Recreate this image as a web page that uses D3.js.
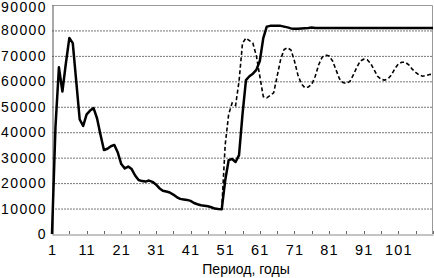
<!DOCTYPE html>
<html>
<head>
<meta charset="utf-8">
<script src="https://cdn.jsdelivr.net/npm/d3@7"></script>
<style>
  body { margin: 0; background: #fff; }
  text { font-family: Arial, "Liberation Sans", sans-serif; fill: #000; }
</style>
</head>
<body>
<div id="chart"></div>
<script>
// data (category = year 1..111)
var solidValues = [
    0, 42000, 65500, 56000, 67000, 77000, 75000, 60000, 45000, 42500,
    47000, 48500, 49500, 45500, 39000, 33000, 33500, 34500, 35000, 32000,
    27500, 25800, 26500, 25500, 23000, 21200, 20800, 20600, 21000, 20500,
    19500, 18000, 17000, 16700, 16300, 15500, 14500, 13800, 13600, 13400,
    13000, 12200, 11700, 11300, 11100, 10900, 10500, 10000, 9800, 9700,
    21000, 29000, 29500, 28300, 31000, 47000, 60500, 62000, 63000, 64500,
    68000, 77000, 81500, 81800, 81800, 81800, 81800, 81500, 81200, 80800,
    80700, 80700, 80800, 80900, 81000, 81200, 81000, 81000, 81000, 81000,
    81000, 81000, 81000, 81000, 81000, 81000, 81000, 81000, 81000, 81000,
    81000, 81000, 81000, 81000, 81000, 81000, 81000, 81000, 81000, 81000,
    81000, 81000, 81000, 81000, 81000, 81000, 81000, 81000, 81000, 81000,
    81000
];
// dashed series only differs from year 50 on
var dashedStart = 50;
var dashedValues = [
    9700, 35000, 47000, 51500, 50500, 60000, 75000, 77000, 76000, 75000,
    70000, 62000, 54000, 53500, 54500, 55500, 62000, 68500, 72500, 73200,
    72300, 68000, 62500, 59000, 57500, 57800, 58800, 62000, 66500, 69500,
    70300, 70000, 68000, 64500, 61000, 59500, 59200, 60000, 62500, 65500,
    68000, 68700, 68500, 67000, 64500, 62000, 60800, 60500, 61000, 62500,
    65000, 66800, 67500, 67500, 66500, 64800, 63500, 62500, 62000, 62300,
    62700, 62800
];
var yTicks = [0, 10000, 20000, 30000, 40000, 50000, 60000, 70000, 80000, 90000];
var xLabels = [1, 11, 21, 31, 41, 51, 61, 71, 81, 91, 101];
var xTitle = "Период, годы";

var width = 434, height = 278,
    margin = { left: 52, right: 1, top: 5, bottom: 44 };

var ww = width - margin.left - margin.right,
    hh = height - margin.top - margin.bottom;

function translate(xDelta, yDelta){
    return "translate(" + xDelta + "," + yDelta + ")";
}

var xScale = d3.scaleLinear()
    .domain([1, solidValues.length])
    .range([0, ww]);

var yScale = d3.scaleLinear()
    .domain([0, 90000])
    .range([hh, 0]);

var svg = d3.select("#chart")
    .append("svg")
    .attr("width", width)
    .attr("height", height);

var g = svg.append("g")
    .attr("transform", translate(margin.left, margin.top));

// gridlines
g.selectAll(".grid")
    .data(yTicks.filter(function(d){ return d > 0 && d < 90000; }))
    .enter()
    .append("line")
    .attr("x1", 0)
    .attr("x2", ww)
    .attr("y1", function(d){ return yScale(d) + 0.5; })
    .attr("y2", function(d){ return yScale(d) + 0.5; })
    .attr("stroke", "#777")
    .attr("stroke-width", 1)
    .attr("stroke-dasharray", "2,1");

// plot border (top, right)
g.append("path")
    .attr("d", "M0,0.5H" + (ww - 0.5) + "V" + hh)
    .attr("fill", "none")
    .attr("stroke", "#999");

// x axis
var xTickVals = d3.range(1, solidValues.length + 1, 5);
var xAxis = d3.axisBottom(xScale)
    .tickValues(xTickVals)
    .tickSize(0)
    .tickFormat("");
g.append("g")
    .attr("class", "x-axis")
    .attr("transform", translate(0, hh + 0.5))
    .call(xAxis)
    .select(".domain").attr("stroke", "#888");

g.selectAll(".xtick")
    .data(xTickVals.slice(1))
    .enter()
    .append("line")
    .attr("x1", function(d){ return Math.round(xScale(d)) + 0.5; })
    .attr("x2", function(d){ return Math.round(xScale(d)) + 0.5; })
    .attr("y1", hh)
    .attr("y2", hh - 3)
    .attr("stroke", "#666");

g.selectAll(".xlabel")
    .data(xLabels)
    .enter()
    .append("text")
    .attr("x", function(d){ return xScale(d) + 0.5; })
    .attr("y", hh + 21)
    .attr("text-anchor", "middle")
    .style("font-size", "14.5px")
    .style("letter-spacing", "1.2px")
    .text(function(d){ return d; });

// y axis
var yAxis = d3.axisLeft(yScale)
    .tickValues(yTicks)
    .tickSize(0)
    .tickFormat("");
g.append("g")
    .attr("class", "y-axis")
    .attr("transform", translate(0.5, 0))
    .call(yAxis)
    .select(".domain").attr("stroke", "#555");

g.selectAll(".ylabel")
    .data(yTicks)
    .enter()
    .append("text")
    .attr("x", -5)
    .attr("y", function(d){ return Math.max(yScale(d) + 5, 6.5); })
    .attr("text-anchor", "end")
    .style("font-size", "14px")
    .style("letter-spacing", "1.4px")
    .text(function(d){ return d; });

svg.append("text")
    .attr("x", 246)
    .attr("y", 274)
    .attr("text-anchor", "middle")
    .style("font-size", "14px")
    .text(xTitle);

// lines
var line = d3.line()
    .x(function(d){ return xScale(d[0]); })
    .y(function(d){ return yScale(d[1]); });

var dashedData = dashedValues.map(function(v, i){ return [dashedStart + i, v]; });
var solidData = solidValues.map(function(v, i){ return [i + 1, v]; });

g.append("path")
    .datum(dashedData)
    .attr("d", line)
    .attr("fill", "none")
    .attr("stroke", "#000")
    .attr("stroke-width", 1.6)
    .attr("stroke-dasharray", "4,2.5");

g.append("path")
    .datum(solidData)
    .attr("d", line)
    .attr("fill", "none")
    .attr("stroke", "#000")
    .attr("stroke-width", 2.5)
    .attr("stroke-linejoin", "round");
</script>
</body>
</html>
